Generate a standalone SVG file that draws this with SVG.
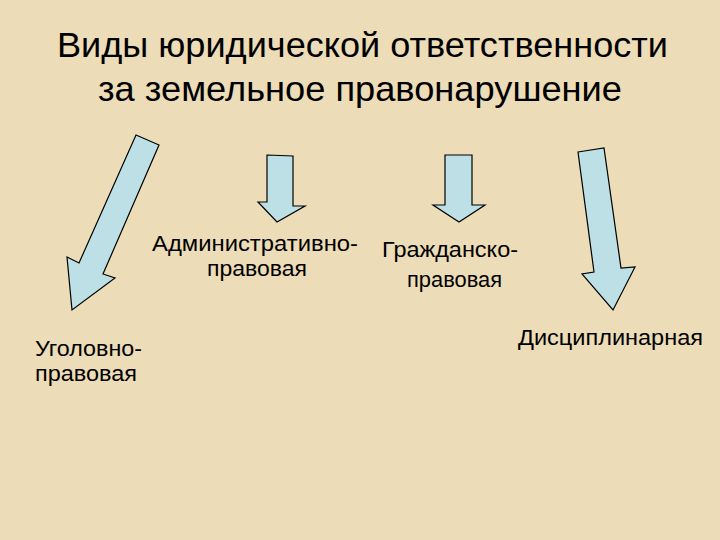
<svg xmlns="http://www.w3.org/2000/svg" width="720" height="540" viewBox="0 0 720 540">
  <style>
    .title { font-family: "Liberation Sans", Arial, sans-serif; font-size: 35px; fill: #000; }
    .label { font-family: "Liberation Sans", Arial, sans-serif; font-size: 22px; fill: #000; }
    .arrow { fill: #bde0e6; stroke: #000; stroke-width: 1.2; stroke-linejoin: miter; }
  </style>
  <rect x="0" y="0" width="720" height="540" fill="#ecdcb7"/>

  <g id="title">
    <text class="title" x="57" y="57" textLength="611" lengthAdjust="spacingAndGlyphs">Виды юридической ответственности</text>
    <text class="title" x="98" y="101" textLength="524" lengthAdjust="spacingAndGlyphs">за земельное правонарушение</text>
  </g>

  <g id="connectors">
    <polygon class="arrow" points="136,135 159,145 103,274 115,278 72,310 67,257 79,263"/>
    <polygon class="arrow" points="267,155 293,156 293,206 305,206 277,222 258,202 267,202"/>
    <polygon class="arrow" points="445,155 472,155 472,205 485,205 459,222 433,205 445,205"/>
    <polygon class="arrow" points="578,152 604,148 621,268 635,267 613,310 582,274 594,272"/>
  </g>

  <g id="node-criminal">
    <text class="label" x="35" y="356" textLength="107" lengthAdjust="spacingAndGlyphs">Уголовно-</text>
    <text class="label" x="35" y="381" textLength="102" lengthAdjust="spacingAndGlyphs">правовая</text>
  </g>
  <g id="node-admin">
    <text class="label" x="152" y="251" textLength="206" lengthAdjust="spacingAndGlyphs">Административно-</text>
    <text class="label" x="207" y="276" textLength="100" lengthAdjust="spacingAndGlyphs">правовая</text>
  </g>
  <g id="node-civil">
    <text class="label" x="382" y="257" textLength="136" lengthAdjust="spacingAndGlyphs">Гражданско-</text>
    <text class="label" x="407" y="287" textLength="95" lengthAdjust="spacingAndGlyphs">правовая</text>
  </g>
  <g id="node-disciplinary">
    <text class="label" x="518" y="345" textLength="185" lengthAdjust="spacingAndGlyphs">Дисциплинарная</text>
  </g>
</svg>
